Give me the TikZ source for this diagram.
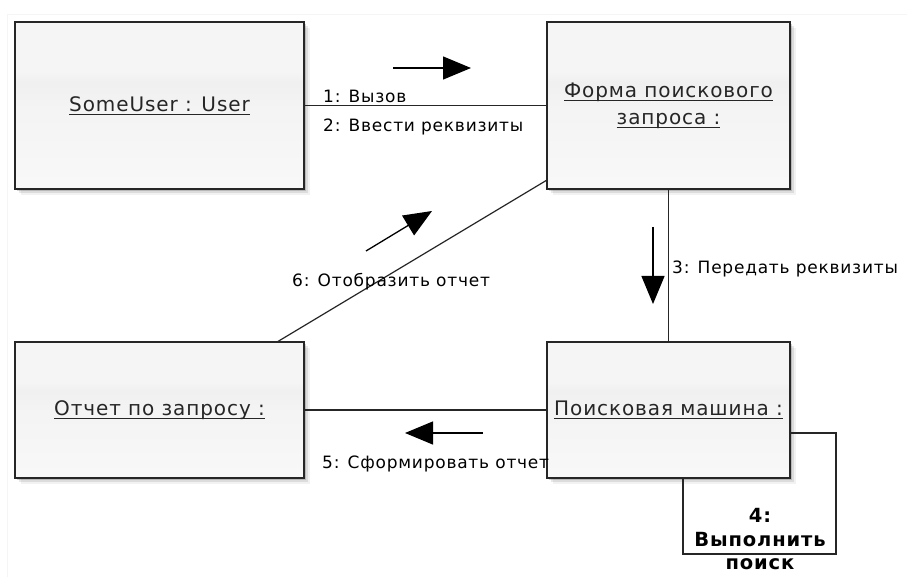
\documentclass[tikz,border=0pt]{standalone}
\usepackage{fontspec}
\setmainfont{DejaVu Sans}[LetterSpace=4.5]
\usetikzlibrary{arrows.meta,shadows}

% soft grey fill of the object boxes, lighter towards the bottom
\pgfdeclareverticalshading{objshade}{100bp}{color(0bp)=(gray!3); color(30bp)=(gray!6); color(50bp)=(gray!9); color(57bp)=(gray!12); color(60bp)=(gray!8); color(100bp)=(gray!8)}

% underlined object name with a fixed rule position
\newcommand\objname[1]{\setbox0\hbox{#1}\rlap{\rule[-3.5pt]{\wd0}{1.1pt}}\box0}

\begin{document}
\begin{tikzpicture}[x=1pt,y=-1pt,
  obj/.style={draw=black!85, line width=1.4pt, shading=objshade, shading angle=0,
    drop shadow={shadow xshift=2pt, shadow yshift=-2pt, opacity=.16, fill=black},
    drop shadow={shadow xshift=4pt, shadow yshift=-4pt, opacity=.09, fill=black},
    drop shadow={shadow xshift=6pt, shadow yshift=-6pt, opacity=.05, fill=black},
    align=center, text=black!85, font=\fontsize{20}{25}\selectfont, inner sep=0pt},
  link/.style={draw=black!85, line width=1.2pt},
  msg/.style={draw=black, line width=1.3pt, -{Triangle[length=28pt,width=23pt]}},
  lbl/.style={anchor=base west, inner sep=0pt, text=black, font=\fontsize{17}{20}\selectfont},
  selflbl/.style={anchor=base, inner sep=0pt, text=black, font=\fontsize{19.5}{22}\bfseries\selectfont}]

\useasboundingbox (0,0) rectangle (907,577);
\fill[white] (0,0) rectangle (907,577);
% faint canvas frame
\draw[gray!8, line width=1pt] (907,15) -- (7,15) -- (7,577);

% objects
\node[obj, minimum width=289pt, minimum height=167pt] (user) at (159.5,105.5) {\objname{SomeUser : User}};
\node[obj, minimum width=243pt, minimum height=167pt] (form) at (668.5,105.5) {\objname{Форма поискового}\\[2pt]\objname{запроса :}};
\node[obj, minimum width=243pt, minimum height=136pt] (engine) at (668.5,410) {\objname{Поисковая машина :}};
\node[obj, minimum width=289pt, minimum height=136pt] (report) at (159.5,410) {\objname{Отчет по запросу :}};

% links between objects
\draw[link] (user) -- (form);
\draw[link] (form) -- (engine);
\draw[link] (engine) -- (report);
\coordinate (diagA) at (547,180);
\coordinate (diagB) at (277,342);
\draw[link] (diagA) -- (diagB);
\coordinate (loopA) at (790,433);
\coordinate (loopC) at (836,554);
\coordinate (loopB) at (683,478);
\draw[link] (loopA) -| (loopC) -| (loopB);

% message arrows
\coordinate (m1s) at (393,68);  \coordinate (m1e) at (471,68);
\coordinate (m3s) at (653,227); \coordinate (m3e) at (653,304);
\coordinate (m5s) at (483,433); \coordinate (m5e) at (405,433);
\coordinate (m6s) at (366,251); \coordinate (m6e) at (432,211);
\draw[msg] (m1s) -- (m1e);
\draw[msg] (m3s) -- (m3e);
\draw[msg] (m5s) -- (m5e);
\draw[msg] (m6s) -- (m6e);

% message labels
\node[lbl] (t1) at (323,103) {1: Вызов};
\node[lbl] (t2) at (323,132) {2: Ввести реквизиты};
\node[lbl] (t3) at (672,273) {3: Передать реквизиты};
\node[lbl] (t5) at (322,468) {5: Сформировать отчет};
\node[lbl] (t6) at (292,287) {6: Отобразить отчет};
\node[selflbl] (t4a) at (760,522) {4:};
\node[selflbl] (t4b) at (760,546) {Выполнить};
\node[selflbl] (t4c) at (760,569) {поиск};
\end{tikzpicture}
\end{document}
